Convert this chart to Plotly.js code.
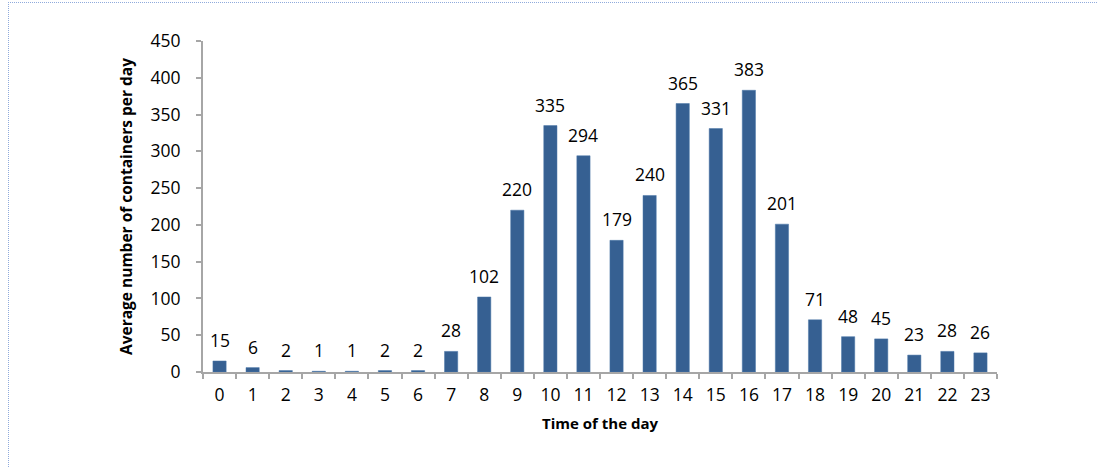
<!DOCTYPE html>
<html><head><meta charset="utf-8">
<script src="https://cdn.plot.ly/plotly-3.0.1.min.js"></script>
<style>
body{margin:0;padding:0;background:#fff;}
#wrap{position:relative;width:1097px;height:468px;}
#frame{position:absolute;left:8px;top:2px;width:1100px;height:480px;border-top:1px dotted #8faadc;border-left:1px dotted #8faadc;pointer-events:none;z-index:5;}
#chart{position:absolute;left:0;top:0;width:1097px;height:468px;}
</style></head>
<body><div id="wrap"><div id="chart"></div><div id="frame"></div></div>
<script>
const hours = ['0','1','2','3','4','5','6','7','8','9','10','11','12','13','14','15','16','17','18','19','20','21','22','23'];
const containers = [15,6,2,1,1,2,2,28,102,220,335,294,179,240,365,331,383,201,71,48,45,23,28,26];
const yTicks = [0,50,100,150,200,250,300,350,400,450];

const font = '"Open Sans", "Liberation Sans", sans-serif';
const labels = hours.map((h, i) => ({
  x: h, y: containers[i], xref:'x', yref:'y', text: String(containers[i]),
  showarrow:false, yanchor:'bottom', yshift:7,
  font:{family:font, size:17.5, color:'#000'}
}));
Plotly.newPlot('chart', [{
  type:'bar', x:hours, y:containers,
  marker:{color:'#366092', line:{color:'#4a76a8', width:0.5}},
  hoverinfo:'none'
}], {
  width:1097, height:468,
  margin:{l:203, r:100, t:41, b:96},
  paper_bgcolor:'#fff', plot_bgcolor:'#fff',
  bargap:0.6, showlegend:false,
  font:{family:font, color:'#000'},
  annotations: labels,
  xaxis:{type:'category', showline:true, linecolor:'#a6a6a6', linewidth:2,
    ticks:'outside', tickson:'boundaries', ticklen:5, tickcolor:'#a6a6a6', tickwidth:2,
    ticklabelstandoff:6,
    tickfont:{size:17.5, family:font}, showgrid:false, zeroline:false,
    title:{text:'<b>Time of the day</b>', font:{size:15, family:font}, standoff:13}},
  yaxis:{range:[0,450], tickvals:yTicks, showline:true, linecolor:'#a6a6a6', linewidth:2,
    ticks:'outside', ticklen:5, tickcolor:'#a6a6a6', tickwidth:2, showgrid:false, zeroline:false,
    ticklabelstandoff:12,
    tickfont:{size:17.5, family:font},
    title:{text:'<b>Average number of containers per day</b>', font:{size:15.5, family:font}, standoff:14}}
}, {staticPlot:true});
</script></body></html>
